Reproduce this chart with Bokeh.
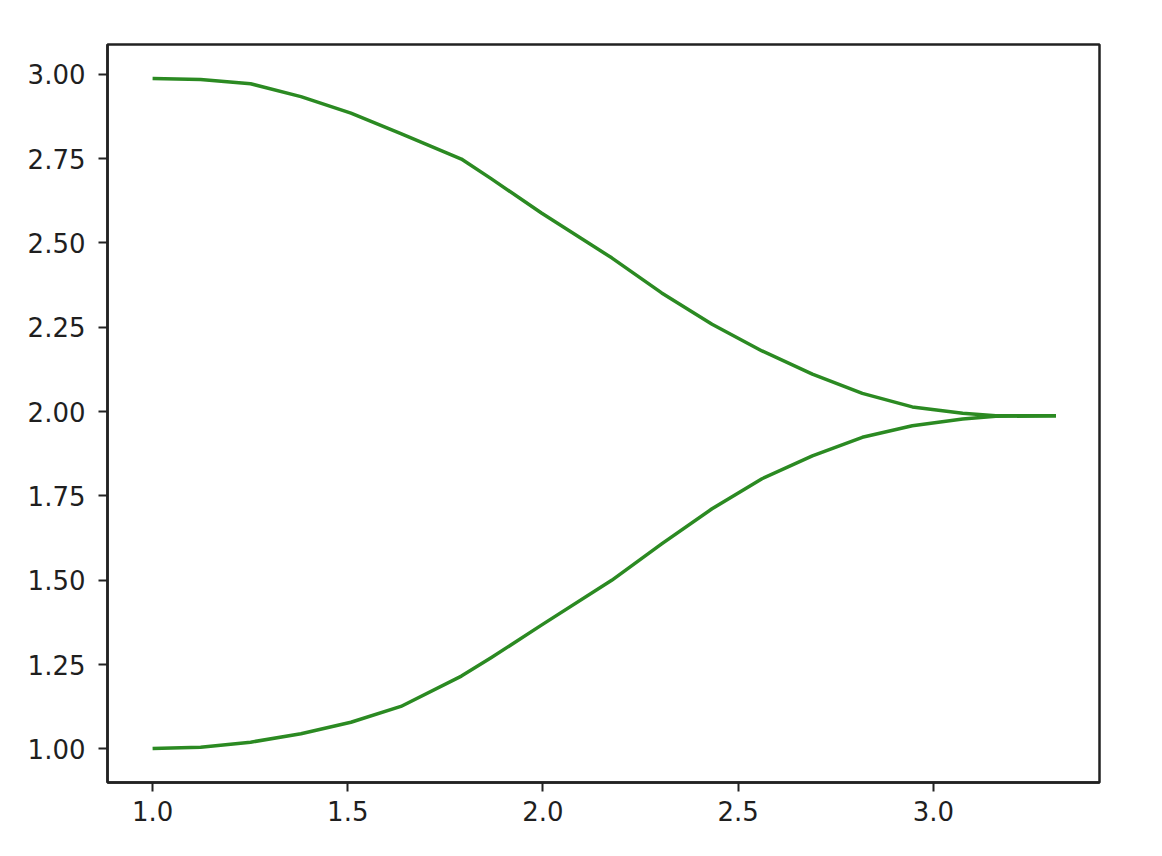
from bokeh.plotting import figure
from bokeh.models import FixedTicker, NumeralTickFormatter, Range1d
from bokeh.embed import file_html
from bokeh.resources import INLINE

# Values
x_vals = [1.0, 1.123, 1.251, 1.380, 1.508, 1.636, 1.791, 1.868, 1.996, 2.176,
          2.304, 2.433, 2.561, 2.690, 2.818, 2.946, 3.075, 3.160, 3.314]
upper_vals = [2.988, 2.985, 2.972, 2.934, 2.885, 2.824, 2.749, 2.690, 2.589, 2.456,
              2.352, 2.259, 2.180, 2.111, 2.054, 2.014, 1.995, 1.988, 1.988]
lower_vals = [1.001, 1.005, 1.020, 1.045, 1.079, 1.126, 1.216, 1.271, 1.367, 1.500,
              1.608, 1.712, 1.801, 1.869, 1.924, 1.958, 1.978, 1.986, 1.988]

x_ticks = [1.0, 1.5, 2.0, 2.5, 3.0]
y_ticks = [1.0, 1.25, 1.5, 1.75, 2.0, 2.25, 2.5, 2.75, 3.0]

LINE_COLOR = "#2b8a22"
FONT = "DejaVu Sans"

p = figure(
    frame_width=992, frame_height=738,
    min_border_left=107, min_border_right=50,
    min_border_top=44, min_border_bottom=62,
    x_range=Range1d(0.8845, 3.4255), y_range=Range1d(0.9005, 3.0885),
    output_backend="svg", toolbar_location=None,
    background_fill_color="white", border_fill_color="white",
)

p.line(x_vals, upper_vals, line_color=LINE_COLOR, line_width=3.5, line_join="round")
p.line(x_vals, lower_vals, line_color=LINE_COLOR, line_width=3.5, line_join="round")

p.xgrid.visible = False
p.ygrid.visible = False
p.outline_line_color = "#222222"
p.outline_line_width = 2.5
p.outline_line_alpha = 1.0

for ax in (p.xaxis[0], p.yaxis[0]):
    ax.axis_line_color = "#222222"
    ax.axis_line_width = 2.5
    ax.major_tick_in = 0
    ax.major_tick_out = 9
    ax.major_tick_line_width = 2
    ax.major_tick_line_color = "#222222"
    ax.minor_tick_line_color = None
    ax.major_label_text_font = FONT
    ax.major_label_text_font_size = "26px"
    ax.major_label_text_color = "#1f1f1f"

p.xaxis[0].ticker = FixedTicker(ticks=x_ticks)
p.xaxis[0].formatter = NumeralTickFormatter(format="0.0")
p.xaxis[0].major_label_standoff = 9
p.yaxis[0].ticker = FixedTicker(ticks=y_ticks)
p.yaxis[0].formatter = NumeralTickFormatter(format="0.00")
p.yaxis[0].major_label_standoff = 13

open("out.html", "w").write(file_html(p, INLINE))
